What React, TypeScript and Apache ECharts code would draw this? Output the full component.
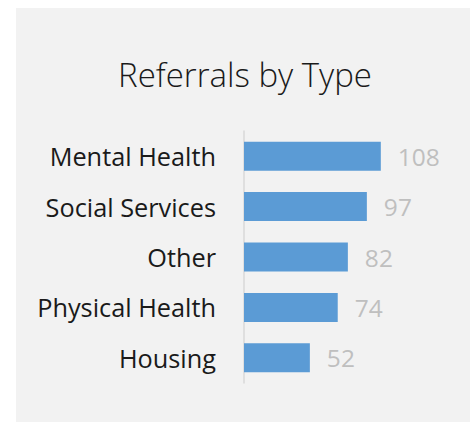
import React, { useEffect, useRef } from "react";
import * as echarts from "echarts";

const categories = ["Mental Health", "Social Services", "Other", "Physical Health", "Housing"];
const values = [108, 97, 82, 74, 52];
const titleText = "Referrals by Type";

export default function App() {
  const ref = useRef<HTMLDivElement>(null);
  useEffect(() => {
    document.body.style.margin = "0";
    const chart = echarts.init(ref.current!, undefined, { renderer: "svg" });
    chart.setOption({
      animation: false,
      backgroundColor: "#ffffff",
      graphic: [
        {
          type: "rect",
          left: 16,
          top: 8,
          shape: { width: 454, height: 414 },
          style: { fill: "#f2f2f2" },
          z: -10,
          silent: true,
        },
      ],
      title: {
        text: titleText,
        left: 240,
        top: 53,
        textAlign: "center",
        textStyle: {
          fontFamily: "Open Sans",
          fontWeight: 300,
          fontSize: 33,
          color: "#1a1a1a",
        },
      },
      grid: { left: 244, top: 131, width: 152, height: 252, containLabel: false },
      xAxis: {
        type: "value",
        min: 0,
        max: 120,
        show: false,
        splitLine: { show: false },
      },
      yAxis: {
        type: "category",
        data: categories,
        inverse: true,
        axisLine: { show: true, lineStyle: { color: "#d9d9d9", width: 1.5 } },
        axisTick: { show: false },
        axisLabel: {
          fontFamily: "Open Sans",
          fontSize: 25.3,
          color: "#1a1a1a",
          margin: 28,
        },
      },
      series: [
        {
          type: "bar",
          data: values,
          barWidth: 29,
          itemStyle: { color: "#5b9bd5" },
          label: {
            show: true,
            position: "right",
            distance: 17,
            fontFamily: "Open Sans",
            fontSize: 24.5,
            color: "#bfbfbf",
          },
        },
      ],
    });
    return () => chart.dispose();
  }, []);
  return (
    <div
      ref={ref}
      style={{ position: "absolute", left: 0, top: 0, width: 472, height: 422 }}
    />
  );
}
